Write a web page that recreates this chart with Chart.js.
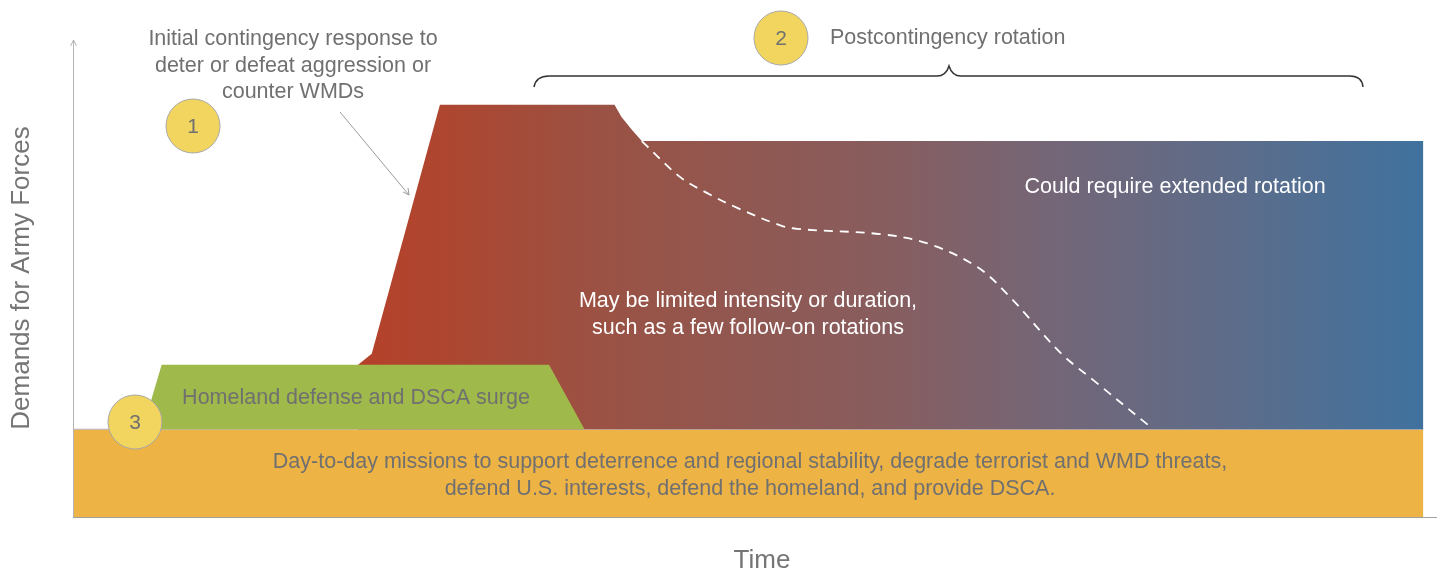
<!DOCTYPE html>
<html>
<head>
<meta charset="utf-8">
<script src="https://cdn.jsdelivr.net/npm/chart.js@4.4.0/dist/chart.umd.min.js"></script>
<style>
  html, body { margin: 0; padding: 0; background: #fff; }
</style>
</head>
<body>
<canvas id="demandChart" width="1437" height="574"></canvas>
<script>
// Conceptual chart: time 0-100 across, demand 0-100 up (no real units)

// Day-to-day missions (baseline band)
const baseX = [0, 99];
const baseY = [18.4, 18.4];

// Homeland defense and DSCA surge (trapezoid sitting on the band)
const surgeX = [5.1, 6.5, 34.9, 37.5];
const surgeY = [18.4, 31.9, 31.9, 18.4];

// Initial contingency + postcontingency rotation (outer envelope)
const contingencyX = [20.9, 21.9, 26.9, 39.7, 40.2, 41.0, 41.7, 99, 99];
const contingencyY = [31.9, 34.2, 86.4, 86.4, 83.9, 81.1, 78.8, 78.8, 18.4];

// Limited intensity / duration path (dashed)
const limitedX = [41.7, 44.5, 46.5, 48.7, 51.8, 53.1, 59.2, 62.6, 66.3, 68.7, 72.4, 74.8, 79.2];
const limitedY = [78.8, 71.3, 67.9, 64.8, 61.2, 60.4, 59.3, 57.4, 52.4, 46.1, 34.4, 28.7, 18.4];

const toPoints = (xs, ys) => xs.map((x, i) => ({ x: x, y: ys[i] }));

const GREY = '#707070';
const FONT = '"Liberation Sans", Arial, sans-serif';

// gradient from red-orange to steel blue across the contingency area
function contingencyFill(context) {
    const chart = context.chart;
    if (!chart.chartArea) return '#9a5244';
    const xs = chart.scales.x;
    const g = chart.ctx.createLinearGradient(xs.getPixelForValue(20.9), 0, xs.getPixelForValue(99), 0);
    g.addColorStop(0.00, '#b5412a');
    g.addColorStop(0.08, '#ae4630');
    g.addColorStop(0.23, '#9a5244');
    g.addColorStop(0.49, '#885d5e');
    g.addColorStop(0.65, '#746677');
    g.addColorStop(0.84, '#5a6d8c');
    g.addColorStop(1.00, '#40729f');
    return g;
}

function circleBadge(ctx, x, y, r, label) {
    ctx.beginPath();
    ctx.arc(x, y, r, 0, Math.PI * 2);
    ctx.fillStyle = '#f1d55f';
    ctx.fill();
    ctx.lineWidth = 1;
    ctx.strokeStyle = '#a8a8a8';
    ctx.stroke();
    ctx.fillStyle = GREY;
    ctx.font = '21px ' + FONT;
    ctx.textAlign = 'center';
    ctx.textBaseline = 'middle';
    ctx.fillText(label, x, y + 1);
}

const decorations = {
    id: 'decorations',
    afterDatasetsDraw(chart) {
        const ctx = chart.ctx;
        const area = chart.chartArea;
        ctx.save();

        // axes
        ctx.strokeStyle = '#b4b4b4';
        ctx.lineWidth = 1;
        ctx.beginPath();
        ctx.moveTo(area.left + 0.5, area.bottom);
        ctx.lineTo(area.left + 0.5, area.top);
        ctx.stroke();
        ctx.beginPath();
        ctx.moveTo(area.left - 2.5, area.top + 6);
        ctx.lineTo(area.left + 0.5, area.top);
        ctx.lineTo(area.left + 3.5, area.top + 6);
        ctx.stroke();
        ctx.strokeStyle = '#a0a0a0';
        ctx.beginPath();
        ctx.moveTo(area.left, area.bottom + 0.5);
        ctx.lineTo(area.right, area.bottom + 0.5);
        ctx.stroke();

        // axis titles
        ctx.fillStyle = '#757575';
        ctx.font = '26px ' + FONT;
        ctx.textAlign = 'center';
        ctx.textBaseline = 'middle';
        ctx.fillText('Time', 762, 561);
        ctx.save();
        ctx.translate(22, 278);
        ctx.rotate(-Math.PI / 2);
        ctx.fillText('Demands for Army Forces', 0, 0);
        ctx.restore();

        // callout for initial contingency
        ctx.font = '21.5px ' + FONT;
        ctx.fillStyle = GREY;
        ctx.fillText('Initial contingency response to', 293, 39);
        ctx.fillText('deter or defeat aggression or', 293, 66);
        ctx.fillText('counter WMDs', 293, 92);
        ctx.strokeStyle = '#9a9a9a';
        ctx.lineWidth = 1;
        ctx.beginPath();
        ctx.moveTo(340, 112);
        ctx.lineTo(409, 195);
        ctx.stroke();
        ctx.beginPath();
        ctx.moveTo(403, 192);
        ctx.lineTo(409, 195);
        ctx.lineTo(408, 188);
        ctx.stroke();

        // postcontingency brace
        ctx.textAlign = 'left';
        ctx.fillText('Postcontingency rotation', 830, 38);
        ctx.strokeStyle = '#333';
        ctx.lineWidth = 1.5;
        ctx.beginPath();
        ctx.moveTo(534, 87);
        ctx.quadraticCurveTo(536, 76, 549, 76);
        ctx.lineTo(937, 76);
        ctx.quadraticCurveTo(946, 76, 949, 66);
        ctx.quadraticCurveTo(952, 76, 961, 76);
        ctx.lineTo(1350, 76);
        ctx.quadraticCurveTo(1362, 76, 1363, 87);
        ctx.stroke();

        // labels inside the areas
        ctx.textAlign = 'center';
        ctx.fillStyle = GREY;
        ctx.fillText('Homeland defense and DSCA surge', 356, 398);
        ctx.fillText('Day-to-day missions to support deterrence and regional stability, degrade terrorist and WMD threats,', 750, 462);
        ctx.fillText('defend U.S. interests, defend the homeland, and provide DSCA.', 750, 489);
        ctx.fillStyle = '#ffffff';
        ctx.fillText('May be limited intensity or duration,', 748, 301);
        ctx.fillText('such as a few follow-on rotations', 748, 328);
        ctx.fillText('Could require extended rotation', 1175, 187);

        // numbered badges
        circleBadge(ctx, 193, 126, 27, '1');
        circleBadge(ctx, 781, 38, 27, '2');
        circleBadge(ctx, 135, 422, 27, '3');

        ctx.restore();
    }
};

new Chart(document.getElementById('demandChart').getContext('2d'), {
    type: 'line',
    data: {
        datasets: [
            {
                label: 'Limited intensity or duration',
                data: toPoints(limitedX, limitedY),
                borderColor: '#ffffff',
                borderWidth: 1.8,
                borderDash: [9, 7],
                tension: 0.35,
                fill: false
            },
            {
                label: 'Homeland defense and DSCA surge',
                data: toPoints(surgeX, surgeY),
                borderWidth: 0,
                backgroundColor: '#9fb94a',
                fill: { value: 18.4 }
            },
            {
                label: 'Contingency and rotation',
                data: toPoints(contingencyX, contingencyY),
                borderWidth: 0,
                backgroundColor: contingencyFill,
                fill: { value: 18.4 }
            },
            {
                label: 'Day-to-day missions',
                data: toPoints(baseX, baseY),
                borderColor: '#b9b4c0',
                borderWidth: 1,
                backgroundColor: '#eeb345',
                fill: 'origin'
            }
        ]
    },
    options: {
        responsive: false,
        animation: false,
        layout: { padding: { left: 73, top: 40, right: 0, bottom: 57 } },
        elements: { point: { radius: 0 }, line: { tension: 0 } },
        scales: {
            x: { type: 'linear', min: 0, max: 100, display: false },
            y: { type: 'linear', min: 0, max: 100, display: false }
        },
        plugins: {
            legend: { display: false },
            tooltip: { enabled: false }
        }
    },
    plugins: [decorations]
});
</script>
</body>
</html>
